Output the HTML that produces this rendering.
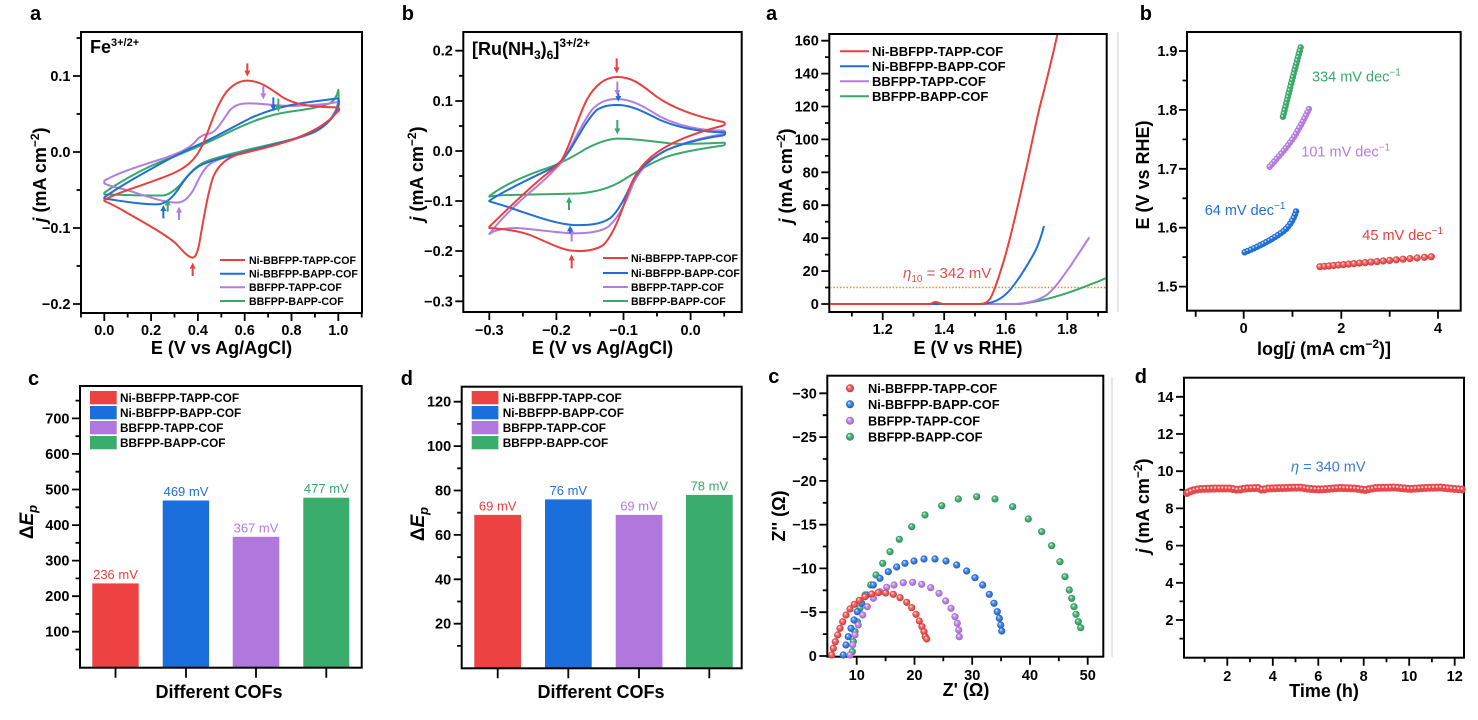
<!DOCTYPE html>
<html><head><meta charset="utf-8"><style>
html,body{margin:0;padding:0;background:#fff}
text{font-family:"Liberation Sans",Arial,sans-serif}
.t{font-size:14.5px;font-weight:bold}
.ti{font-size:18px;font-weight:bold}
.lt{font-size:20px;font-weight:bold}
.ax{fill:none;stroke:#000;stroke-width:2}
.tk{fill:none;stroke:#000;stroke-width:1.8}
.cv{fill:none;stroke-width:6;stroke-linejoin:round}
</style></head><body>
<svg width="1478" height="715" viewBox="0 0 1478 715" xmlns="http://www.w3.org/2000/svg">
<defs>
<radialGradient id="gR" cx=".5" cy=".5" r=".5" fx=".35" fy=".3"><stop offset="0" stop-color="#fff"/><stop offset=".35" stop-color="#f07a7a"/><stop offset="1" stop-color="#d42e2e"/></radialGradient>
<radialGradient id="gB" cx=".5" cy=".5" r=".5" fx=".35" fy=".3"><stop offset="0" stop-color="#fff"/><stop offset=".35" stop-color="#5a97e8"/><stop offset="1" stop-color="#1558c4"/></radialGradient>
<radialGradient id="gP" cx=".5" cy=".5" r=".5" fx=".35" fy=".3"><stop offset="0" stop-color="#fff"/><stop offset=".35" stop-color="#c99ae8"/><stop offset="1" stop-color="#9c5fd0"/></radialGradient>
<radialGradient id="gG" cx=".5" cy=".5" r=".5" fx=".35" fy=".3"><stop offset="0" stop-color="#fff"/><stop offset=".35" stop-color="#62c08a"/><stop offset="1" stop-color="#248a52"/></radialGradient>
<clipPath id="cA"><rect x="82" y="33" width="279" height="279"/></clipPath>
<clipPath id="cB"><rect x="464" y="33" width="277" height="278"/></clipPath>
<clipPath id="cL"><rect x="830" y="35" width="276" height="276"/></clipPath>
</defs>
<rect width="1478" height="715" fill="#fff"/>

<!-- faint separators -->
<path d="M1118,32V312M1112,377V657" stroke="#cfcfcf" stroke-width="1"/>

<!-- ================= Panel a (CV Fe) ================= -->
<text class="lt" x="30" y="20">a</text>
<rect x="81" y="32" width="281" height="281" class="ax"/>
<path class="tk" d="M73,76H81M73,152H81M73,228H81M73,304H81M76.5,38H81M76.5,114H81M76.5,190H81M76.5,266H81M104.3,313V321M151.1,313V321M197.9,313V321M244.7,313V321M291.5,313V321M338.3,313V321M81,313V317.5M127.7,313V317.5M174.5,313V317.5M221.3,313V317.5M268.1,313V317.5M314.9,313V317.5M361.7,313V317.5"/>
<g class="t" text-anchor="end"><text x="70.5" y="81">0.1</text><text x="70.5" y="157">0.0</text><text x="70.5" y="233">−0.1</text><text x="70.5" y="309">−0.2</text></g>
<g class="t" text-anchor="middle"><text x="104.3" y="335">0.0</text><text x="151.1" y="335">0.2</text><text x="197.9" y="335">0.4</text><text x="244.7" y="335">0.6</text><text x="291.5" y="335">0.8</text><text x="338.3" y="335">1.0</text></g>
<text class="ti" x="221.5" y="354" text-anchor="middle">E (V vs Ag/AgCl)</text>
<text class="ti" transform="translate(46,175) rotate(-90)" text-anchor="middle"><tspan font-style="italic">j</tspan> (mA cm<tspan font-size="12" dy="-7">−2</tspan><tspan dy="7">)</tspan></text>
<text x="90" y="53" font-size="18" font-weight="bold">Fe<tspan font-size="11" dy="-7">3+/2+</tspan></text>
<g clip-path="url(#cA)"><g transform="scale(0.333333)">
<path class="cv" stroke="#3aa86a" d="M313,578 C360,545 430,505 500,478 C560,455 620,430 680,400 C740,370 800,345 870,335 C920,328 960,322 990,310 C1005,300 1012,285 1015,270 C1017,290 1015,318 1005,335 C980,385 940,400 900,412 C840,428 780,440 720,455 C670,467 630,478 610,488 C580,505 560,530 540,555 C520,575 505,585 490,586 C440,588 380,585 313,583 Z"/>
<path class="cv" stroke="#b57ce0" d="M313,542 C360,515 430,495 500,472 C550,455 575,440 590,420 C600,408 615,402 630,400 C650,395 665,365 690,330 C705,315 720,310 745,310 C790,310 830,318 880,318 C940,316 990,312 1015,305 C1019,310 1016,322 1008,332 C990,370 960,390 930,402 C870,425 800,442 740,455 C690,466 650,478 630,492 C610,505 595,540 580,570 C565,595 550,608 530,608 C490,608 430,585 380,570 C350,562 325,558 313,550 Z"/>
<path class="cv" stroke="#1f6fd8" d="M313,592 C350,565 420,525 480,492 C530,465 570,445 600,432 C650,410 700,380 750,355 C800,332 850,318 900,310 C950,303 990,298 1015,295 C1019,302 1016,322 1008,335 C995,360 975,380 940,397 C880,420 800,440 740,455 C680,470 640,480 610,492 C580,505 560,530 540,560 C520,590 500,612 472,613 C430,614 380,605 313,596 Z"/>
<path class="cv" stroke="#e8403f" d="M313,600 C360,572 470,545 530,515 C570,495 590,470 605,440 C625,400 645,320 680,275 C700,252 720,242 742,242 C780,242 810,265 845,290 C880,312 930,322 1015,322 C1019,326 1018,333 1012,336 C980,372 940,395 880,418 C820,440 760,452 720,462 C680,472 655,495 640,530 C625,570 610,660 598,730 C592,760 586,773 578,773 C562,772 545,748 525,728 C490,700 440,672 384,640 C350,620 325,608 313,603 Z"/>
<g stroke-width="6">
<path stroke="#e8403f" d="M742,190V215M578,828V803"/><polygon fill="#e8403f" points="733,212 751,212 742,230"/><polygon fill="#e8403f" points="569,806 587,806 578,788"/>
<path stroke="#b57ce0" d="M790,258V283M537,660V635"/><polygon fill="#b57ce0" points="781,280 799,280 790,298"/><polygon fill="#b57ce0" points="528,638 546,638 537,620"/>
<path stroke="#1f6fd8" d="M820,292V318M490,655V630"/><polygon fill="#1f6fd8" points="811,315 829,315 820,333"/><polygon fill="#1f6fd8" points="481,633 499,633 490,615"/>
<path stroke="#3aa86a" d="M835,296V321M503,635V613"/><polygon fill="#3aa86a" points="826,318 844,318 835,336"/><polygon fill="#3aa86a" points="494,616 512,616 503,598"/>
</g>
</g></g>
<g stroke-width="2"><path d="M220,260H245" stroke="#e8403f"/><path d="M220,273.7H245" stroke="#1f6fd8"/><path d="M220,287.3H245" stroke="#b57ce0"/><path d="M220,301H245" stroke="#3aa86a"/></g>
<g font-size="10.6" font-weight="bold"><text x="249" y="264">Ni-BBFPP-TAPP-COF</text><text x="249" y="277.5">Ni-BBFPP-BAPP-COF</text><text x="249" y="291">BBFPP-TAPP-COF</text><text x="249" y="304.8">BBFPP-BAPP-COF</text></g>

<!-- ================= Panel b (CV Ru) ================= -->
<text class="lt" x="401.7" y="20">b</text>
<rect x="463.3" y="32" width="278.4" height="280" class="ax"/>
<path class="tk" d="M455.3,50.7H463.3M455.3,101H463.3M455.3,151H463.3M455.3,201H463.3M455.3,251H463.3M455.3,301.3H463.3M459,75.8H463.3M459,126H463.3M459,176H463.3M459,226H463.3M459,276H463.3M489.3,312V320M556.4,312V320M623.5,312V320M690.6,312V320M522.9,312V316.5M590,312V316.5M657,312V316.5M724.2,312V316.5"/>
<g class="t" text-anchor="end"><text x="452.8" y="55.7">0.2</text><text x="452.8" y="106">0.1</text><text x="452.8" y="156">0.0</text><text x="452.8" y="206">−0.1</text><text x="452.8" y="256">−0.2</text><text x="452.8" y="306.3">−0.3</text></g>
<g class="t" text-anchor="middle"><text x="489.3" y="335">−0.3</text><text x="556.4" y="335">−0.2</text><text x="623.5" y="335">−0.1</text><text x="690.6" y="335">0.0</text></g>
<text class="ti" x="602.5" y="354" text-anchor="middle">E (V vs Ag/AgCl)</text>
<text class="ti" transform="translate(423,174) rotate(-90)" text-anchor="middle"><tspan font-style="italic">j</tspan> (mA cm<tspan font-size="12" dy="-7">−2</tspan><tspan dy="7">)</tspan></text>
<text x="472" y="55" font-size="18" font-weight="bold">[Ru(NH<tspan font-size="12" dy="4">3</tspan><tspan dy="-4">)</tspan><tspan font-size="12" dy="4">6</tspan><tspan dy="-4">]</tspan><tspan font-size="12" dy="-8">3+/2+</tspan></text>
<g clip-path="url(#cB)"><g transform="translate(370,0) scale(0.333333)">
<path class="cv" stroke="#3aa86a" d="M358,588 C400,555 470,525 530,505 C570,492 610,470 650,445 C690,425 720,416 745,416 C800,416 850,425 900,430 C960,434 1010,430 1063,428 C1067,431 1065,436 1058,437 C1000,445 940,455 890,470 C840,490 800,515 760,540 C720,565 680,575 630,580 C560,583 480,583 420,585 C390,586 365,588 358,590 Z"/>
<path class="cv" stroke="#b57ce0" d="M358,702 C390,660 440,610 500,560 C540,525 560,505 580,480 C605,440 630,380 665,330 C690,303 715,297 742,297 C790,298 830,325 870,350 C930,380 1000,392 1063,392 C1068,396 1065,402 1055,403 C1000,412 940,428 890,450 C840,475 810,510 790,550 C770,600 750,650 715,680 C690,697 650,700 610,700 C560,698 500,688 440,684 C400,684 370,692 358,702 Z"/>
<path class="cv" stroke="#1f6fd8" d="M358,602 C400,575 470,540 530,512 C560,498 580,480 600,450 C625,410 650,360 680,330 C705,315 725,315 745,315 C790,316 830,340 870,360 C930,385 1000,397 1063,397 C1068,400 1065,406 1055,407 C1000,415 940,430 890,450 C840,475 810,505 790,540 C770,580 750,630 720,655 C690,675 650,676 610,675 C560,672 500,650 440,630 C400,615 370,608 358,604 Z"/>
<path class="cv" stroke="#e8403f" d="M358,680 C400,640 460,580 520,530 C545,510 560,500 575,480 C600,440 620,360 650,300 C675,255 705,232 740,231 C790,230 820,260 860,290 C910,325 980,350 1060,366 C1068,368 1065,376 1055,378 C1000,392 930,415 880,445 C830,475 800,510 780,560 C760,620 735,700 700,735 C675,752 640,755 605,752 C570,748 530,725 480,705 C440,690 390,686 358,684 Z"/>
<g stroke-width="6">
<path stroke="#e8403f" d="M740,175V205M605,805V778"/><polygon fill="#e8403f" points="731,202 749,202 740,220"/><polygon fill="#e8403f" points="596,781 614,781 605,763"/>
<path stroke="#b57ce0" d="M742,245V273M605,725V698"/><polygon fill="#b57ce0" points="733,270 751,270 742,288"/><polygon fill="#b57ce0" points="596,701 614,701 605,683"/>
<path stroke="#1f6fd8" d="M745,280V290M600,700V690"/><polygon fill="#1f6fd8" points="736,288 754,288 745,305"/><polygon fill="#1f6fd8" points="591,694 609,694 600,676"/>
<path stroke="#3aa86a" d="M742,360V388M597,630V605"/><polygon fill="#3aa86a" points="733,385 751,385 742,403"/><polygon fill="#3aa86a" points="588,608 606,608 597,590"/>
</g>
</g></g>
<g stroke-width="2"><path d="M603,258H628" stroke="#e8403f"/><path d="M603,273H628" stroke="#1f6fd8"/><path d="M603,287H628" stroke="#b57ce0"/><path d="M603,301H628" stroke="#3aa86a"/></g>
<g font-size="10.6" font-weight="bold"><text x="631" y="262">Ni-BBFPP-TAPP-COF</text><text x="631" y="277">Ni-BBFPP-BAPP-COF</text><text x="631" y="291">BBFPP-TAPP-COF</text><text x="631" y="305">BBFPP-BAPP-COF</text></g>

<!-- ================= Panel a (LSV) ================= -->
<text class="lt" x="766" y="20">a</text>
<rect x="829.3" y="34" width="277.4" height="278" class="ax"/>
<path class="tk" d="M821.3,304H829.3M821.3,271.1H829.3M821.3,238.2H829.3M821.3,205.2H829.3M821.3,172.3H829.3M821.3,139.4H829.3M821.3,106.5H829.3M821.3,73.6H829.3M821.3,40.7H829.3M825,287.5H829.3M825,254.6H829.3M825,221.7H829.3M825,188.8H829.3M825,155.9H829.3M825,123H829.3M825,90H829.3M825,57.1H829.3M882.7,312V320M944.2,312V320M1005.8,312V320M1067.3,312V320M851.9,312V316.5M913.5,312V316.5M975,312V316.5M1036.5,312V316.5M1098.1,312V316.5"/>
<g class="t" text-anchor="end"><text x="818.8" y="309">0</text><text x="818.8" y="276.1">20</text><text x="818.8" y="243.2">40</text><text x="818.8" y="210.2">60</text><text x="818.8" y="177.3">80</text><text x="818.8" y="144.4">100</text><text x="818.8" y="111.5">120</text><text x="818.8" y="78.6">140</text><text x="818.8" y="45.7">160</text></g>
<g class="t" text-anchor="middle"><text x="882.7" y="334">1.2</text><text x="944.2" y="334">1.4</text><text x="1005.8" y="334">1.6</text><text x="1067.3" y="334">1.8</text></g>
<text class="ti" x="968" y="354" text-anchor="middle">E (V vs RHE)</text>
<text class="ti" transform="translate(792,176) rotate(-90)" text-anchor="middle"><tspan font-style="italic">j</tspan> (mA cm<tspan font-size="12" dy="-7">−2</tspan><tspan dy="7">)</tspan></text>
<path d="M830,287.5H1106" stroke="#e8901a" stroke-width="1.4" stroke-dasharray="1.5 1.8" fill="none"/>
<text x="903" y="278" font-size="15" fill="#e0504f"><tspan font-style="italic">η</tspan><tspan font-size="10" dy="4">10</tspan><tspan dy="-4"> = 342 mV</tspan></text>
<g clip-path="url(#cL)"><g transform="translate(740,0) scale(0.333333)">
<path class="cv" stroke="#3aa86a" d="M270,912 L840,912 C880,908 920,898 960,886 C1000,874 1030,862 1060,850 C1080,843 1095,836 1110,828"/>
<path class="cv" stroke="#b57ce0" d="M270,912 L820,912 C860,911 895,902 920,885 C945,865 965,835 990,800 C1010,770 1030,740 1048,712"/>
<path class="cv" stroke="#1f6fd8" d="M270,912 L720,912 C760,911 785,898 810,870 C835,840 860,800 885,755 C897,730 905,705 912,678"/>
<path class="cv" stroke="#e8403f" d="M270,912 L570,912 C578,910 582,905 588,906 C595,907 600,911 610,912 L720,912 C740,911 748,902 756,885 C768,860 780,820 795,770 C815,700 840,590 860,500 C880,410 895,330 910,280 C925,220 940,160 955,90"/>
</g></g>
<g stroke-width="2"><path d="M840,51.3H869" stroke="#e8403f"/><path d="M840,66.3H869" stroke="#1f6fd8"/><path d="M840,81.3H869" stroke="#b57ce0"/><path d="M840,96.3H869" stroke="#3aa86a"/></g>
<g font-size="13" font-weight="bold"><text x="872" y="56">Ni-BBFPP-TAPP-COF</text><text x="872" y="71">Ni-BBFPP-BAPP-COF</text><text x="872" y="86">BBFPP-TAPP-COF</text><text x="872" y="101">BBFPP-BAPP-COF</text></g>

<!-- ================= Panel b (Tafel) ================= -->
<text class="lt" x="1139.7" y="20">b</text>
<rect x="1187" y="32" width="273.7" height="278.7" class="ax"/>
<path class="tk" d="M1179,51H1187M1179,109.9H1187M1179,168.8H1187M1179,227.7H1187M1179,286.6H1187M1182.5,80.5H1187M1182.5,139.4H1187M1182.5,198.3H1187M1182.5,257.2H1187M1243.7,310.7V318.7M1341.3,310.7V318.7M1438,310.7V318.7M1195.7,310.7V316.7M1292.5,310.7V316.7M1389.7,310.7V316.7"/>
<g class="t" text-anchor="end"><text x="1177.5" y="56">1.9</text><text x="1177.5" y="114.9">1.8</text><text x="1177.5" y="173.8">1.7</text><text x="1177.5" y="232.7">1.6</text><text x="1177.5" y="291.6">1.5</text></g>
<g class="t" text-anchor="middle"><text x="1243.7" y="333">0</text><text x="1341.3" y="333">2</text><text x="1438" y="333">4</text></g>
<text class="ti" x="1324" y="355" text-anchor="middle">log[<tspan font-style="italic">j</tspan> (mA cm<tspan font-size="12" dy="-7">−2</tspan><tspan dy="7">)]</tspan></text>
<text class="ti" transform="translate(1149,175) rotate(-90)" text-anchor="middle">E (V vs RHE)</text>
<g fill="none" stroke-linecap="round">
<path d="M1283,116.7 C1287,100 1292,80 1296,65 C1298,57 1300,50 1301.3,45" stroke="#3aa86a" stroke-width="6.5" stroke-dasharray="0 3.4"/>
<path d="M1283,116.7 C1287,100 1292,80 1296,65 C1298,57 1300,50 1301.3,45" stroke="#fff" stroke-opacity=".7" stroke-width="2" stroke-dasharray="0 3.4" transform="translate(-0.8,-0.8)"/>
<path d="M1269.7,166.7 C1280,155 1292,142 1298,130 C1304,120 1307,113 1309.7,107.3" stroke="#b57ce0" stroke-width="6.5" stroke-dasharray="0 3.5"/>
<path d="M1269.7,166.7 C1280,155 1292,142 1298,130 C1304,120 1307,113 1309.7,107.3" stroke="#fff" stroke-opacity=".7" stroke-width="2" stroke-dasharray="0 3.5" transform="translate(-0.8,-0.8)"/>
<path d="M1244.7,252.3 C1260,246 1275,238 1285,230 C1291,224 1294,218 1296.3,210.7" stroke="#1f6fd8" stroke-width="6.5" stroke-dasharray="0 3.4"/>
<path d="M1244.7,252.3 C1260,246 1275,238 1285,230 C1291,224 1294,218 1296.3,210.7" stroke="#fff" stroke-opacity=".7" stroke-width="2" stroke-dasharray="0 3.4" transform="translate(-0.8,-0.8)"/>
</g>
<g fill="url(#gR)">
<circle cx="1320" cy="266.7" r="3.6"/><circle cx="1324.5" cy="266.3" r="3.6"/><circle cx="1329" cy="265.9" r="3.6"/><circle cx="1333.7" cy="265.5" r="3.6"/><circle cx="1338.5" cy="265" r="3.6"/><circle cx="1343.5" cy="264.6" r="3.6"/><circle cx="1348.7" cy="264.1" r="3.6"/><circle cx="1354" cy="263.6" r="3.6"/><circle cx="1359.5" cy="263.1" r="3.6"/><circle cx="1365.2" cy="262.6" r="3.6"/><circle cx="1371" cy="262.1" r="3.6"/><circle cx="1377" cy="261.6" r="3.6"/><circle cx="1383.2" cy="261" r="3.6"/><circle cx="1389.6" cy="260.4" r="3.6"/><circle cx="1396.2" cy="259.8" r="3.6"/><circle cx="1403" cy="259.2" r="3.6"/><circle cx="1410" cy="258.6" r="3.6"/><circle cx="1417.2" cy="258" r="3.6"/><circle cx="1424.5" cy="257.3" r="3.6"/><circle cx="1431.3" cy="256.7" r="3.6"/>
</g>
<g font-size="14.5"><text x="1312" y="81.7" fill="#3aa86a">334 mV dec<tspan font-size="10" dy="-6">−1</tspan></text><text x="1301.3" y="156.7" fill="#b57ce0">101 mV dec<tspan font-size="10" dy="-6">−1</tspan></text><text x="1204.7" y="215" fill="#1f6fd8">64 mV dec<tspan font-size="10" dy="-6">−1</tspan></text><text x="1362.3" y="240" fill="#e8403f">45 mV dec<tspan font-size="10" dy="-6">−1</tspan></text></g>

<!-- ================= Panel c (bars Fe) ================= -->
<text class="lt" x="28" y="385">c</text>
<g><rect x="92.3" y="583.4" width="46.4" height="84.3" fill="#ee4242"/><rect x="162.7" y="500.5" width="46.4" height="167.2" fill="#1b6fdc"/><rect x="232.7" y="536.8" width="46.6" height="130.9" fill="#b077dd"/><rect x="303.3" y="497.7" width="46" height="170" fill="#3aac6c"/></g>
<rect x="80" y="386" width="281.7" height="281.7" class="ax"/>
<path class="tk" d="M72,631.7H80M72,596.2H80M72,560.6H80M72,525.1H80M72,489.5H80M72,453.9H80M72,418.4H80M75.5,649.5H80M75.5,614H80M75.5,578.4H80M75.5,542.8H80M75.5,507.3H80M75.5,471.7H80M75.5,436.2H80M75.5,400.6H80M115.5,667.7V677.7M186,667.7V677.7M256,667.7V677.7M326.3,667.7V677.7"/>
<g class="t" text-anchor="end"><text x="69.5" y="636.7">100</text><text x="69.5" y="601.2">200</text><text x="69.5" y="565.6">300</text><text x="69.5" y="530.1">400</text><text x="69.5" y="494.5">500</text><text x="69.5" y="458.9">600</text><text x="69.5" y="423.4">700</text></g>
<g font-size="13" text-anchor="middle"><text x="115.5" y="579" fill="#e8403f">236 mV</text><text x="186" y="496" fill="#1f6fd8">469 mV</text><text x="256" y="532.3" fill="#b57ce0">367 mV</text><text x="326.3" y="493.2" fill="#3aa86a">477 mV</text></g>
<g><rect x="90" y="391" width="26.7" height="13.3" fill="#ee4242"/><rect x="90" y="406" width="26.7" height="13.3" fill="#1b6fdc"/><rect x="90" y="421" width="26.7" height="13.3" fill="#b077dd"/><rect x="90" y="436" width="26.7" height="13.3" fill="#3aac6c"/></g>
<g font-size="11.8" font-weight="bold"><text x="120" y="402">Ni-BBFPP-TAPP-COF</text><text x="120" y="417">Ni-BBFPP-BAPP-COF</text><text x="120" y="432">BBFPP-TAPP-COF</text><text x="120" y="447">BBFPP-BAPP-COF</text></g>
<text class="ti" x="219" y="698" text-anchor="middle">Different COFs</text>
<text transform="translate(33,522) rotate(-90)" text-anchor="middle" font-size="19" font-weight="bold">Δ<tspan font-style="italic">E</tspan><tspan font-style="italic" font-size="13" dy="4">p</tspan></text>

<!-- ================= Panel d (bars Ru) ================= -->
<text class="lt" x="400.7" y="385">d</text>
<g><rect x="474.3" y="514.9" width="46.7" height="153.4" fill="#ee4242"/><rect x="545" y="499.4" width="46.7" height="168.9" fill="#1b6fdc"/><rect x="615.7" y="514.9" width="46.7" height="153.4" fill="#b077dd"/><rect x="686" y="494.9" width="46.7" height="173.4" fill="#3aac6c"/></g>
<rect x="461.7" y="386.7" width="280" height="281.6" class="ax"/>
<path class="tk" d="M453.7,623.7H461.7M453.7,579.3H461.7M453.7,534.9H461.7M453.7,490.5H461.7M453.7,446.1H461.7M453.7,401.7H461.7M457.2,645.9H461.7M457.2,601.5H461.7M457.2,557.1H461.7M457.2,512.7H461.7M457.2,468.3H461.7M457.2,423.9H461.7M497.7,668.3V678.3M568.3,668.3V678.3M639,668.3V678.3M709.3,668.3V678.3"/>
<g class="t" text-anchor="end"><text x="451.2" y="628.7">20</text><text x="451.2" y="584.3">40</text><text x="451.2" y="539.9">60</text><text x="451.2" y="495.5">80</text><text x="451.2" y="451.1">100</text><text x="451.2" y="406.7">120</text></g>
<g font-size="13" text-anchor="middle"><text x="497.7" y="510.4" fill="#e8403f">69 mV</text><text x="568.3" y="495" fill="#1f6fd8">76 mV</text><text x="639" y="510.4" fill="#b57ce0">69 mV</text><text x="709.3" y="490.4" fill="#3aa86a">78 mV</text></g>
<g><rect x="471.7" y="391" width="26.7" height="13.3" fill="#ee4242"/><rect x="471.7" y="406" width="26.7" height="13.3" fill="#1b6fdc"/><rect x="471.7" y="421" width="26.7" height="13.3" fill="#b077dd"/><rect x="471.7" y="436" width="26.7" height="13.3" fill="#3aac6c"/></g>
<g font-size="11.8" font-weight="bold"><text x="502.7" y="402">Ni-BBFPP-TAPP-COF</text><text x="502.7" y="417">Ni-BBFPP-BAPP-COF</text><text x="502.7" y="432">BBFPP-TAPP-COF</text><text x="502.7" y="447">BBFPP-BAPP-COF</text></g>
<text class="ti" x="601" y="698" text-anchor="middle">Different COFs</text>
<text transform="translate(424,524) rotate(-90)" text-anchor="middle" font-size="19" font-weight="bold">Δ<tspan font-style="italic">E</tspan><tspan font-style="italic" font-size="13" dy="4">p</tspan></text>

<!-- ================= Panel c (Nyquist) ================= -->
<text class="lt" x="768.3" y="383">c</text>
<rect x="827.3" y="375.7" width="276" height="281" class="ax"/>
<path class="tk" d="M819.3,656H827.3M819.3,612.2H827.3M819.3,568.4H827.3M819.3,524.7H827.3M819.3,480.9H827.3M819.3,437.1H827.3M819.3,393.3H827.3M822.8,634.1H827.3M822.8,590.3H827.3M822.8,546.5H827.3M822.8,502.8H827.3M822.8,459H827.3M822.8,415.2H827.3M856.7,656.7V664.7M914.5,656.7V664.7M972.2,656.7V664.7M1030,656.7V664.7M1087.7,656.7V664.7M885.6,656.7V661.2M943.3,656.7V661.2M1001.1,656.7V661.2M1058.8,656.7V661.2"/>
<g class="t" text-anchor="end"><text x="816.8" y="661">0</text><text x="816.8" y="617.2">−5</text><text x="816.8" y="573.4">−10</text><text x="816.8" y="529.7">−15</text><text x="816.8" y="485.9">−20</text><text x="816.8" y="442.1">−25</text><text x="816.8" y="398.3">−30</text></g>
<g class="t" text-anchor="middle"><text x="856.7" y="680">10</text><text x="914.5" y="680">20</text><text x="972.2" y="680">30</text><text x="1030" y="680">40</text><text x="1087.7" y="680">50</text></g>
<text class="ti" x="966" y="696" text-anchor="middle">Z' (Ω)</text>
<text class="ti" transform="translate(785,516) rotate(-90)" text-anchor="middle">Z'' (Ω)</text>
<g fill="url(#gG)">
<circle cx="852.3" cy="651.7" r="3.6"/><circle cx="853.3" cy="641.7" r="3.6"/><circle cx="855" cy="631.7" r="3.6"/><circle cx="857.3" cy="621.7" r="3.6"/><circle cx="860" cy="608.3" r="3.6"/><circle cx="865" cy="595" r="3.6"/><circle cx="870.7" cy="585" r="3.6"/><circle cx="876" cy="575" r="3.6"/><circle cx="882.7" cy="563.3" r="3.6"/><circle cx="890" cy="551.7" r="3.6"/><circle cx="899.3" cy="539.3" r="3.6"/><circle cx="911.7" cy="526.7" r="3.6"/><circle cx="925" cy="515" r="3.6"/><circle cx="941.7" cy="505.7" r="3.6"/><circle cx="958.3" cy="499" r="3.6"/><circle cx="976.7" cy="496.7" r="3.6"/><circle cx="995" cy="499" r="3.6"/><circle cx="1012.7" cy="506.7" r="3.6"/><circle cx="1028.3" cy="519" r="3.6"/><circle cx="1041.7" cy="531.7" r="3.6"/><circle cx="1051.7" cy="545.7" r="3.6"/><circle cx="1060" cy="561.7" r="3.6"/><circle cx="1065" cy="576.7" r="3.6"/><circle cx="1069.3" cy="590" r="3.6"/><circle cx="1071.7" cy="598.3" r="3.6"/><circle cx="1074" cy="606.7" r="3.6"/><circle cx="1076" cy="614.3" r="3.6"/><circle cx="1078.3" cy="621.7" r="3.6"/><circle cx="1080.7" cy="627.7" r="3.6"/>
</g>
<g fill="url(#gB)">
<circle cx="843.3" cy="655" r="3.6"/><circle cx="846" cy="645" r="3.6"/><circle cx="848.3" cy="636.7" r="3.6"/><circle cx="851" cy="628.3" r="3.6"/><circle cx="854" cy="620" r="3.6"/><circle cx="857.3" cy="611.7" r="3.6"/><circle cx="861.7" cy="603.3" r="3.6"/><circle cx="866.7" cy="595" r="3.6"/><circle cx="873.3" cy="585" r="3.6"/><circle cx="880" cy="578.3" r="3.6"/><circle cx="888.3" cy="571.7" r="3.6"/><circle cx="896.7" cy="567" r="3.6"/><circle cx="905" cy="563.3" r="3.6"/><circle cx="914" cy="561" r="3.6"/><circle cx="924" cy="559" r="3.6"/><circle cx="935" cy="559" r="3.6"/><circle cx="946" cy="561" r="3.6"/><circle cx="956.7" cy="565" r="3.6"/><circle cx="966.7" cy="571" r="3.6"/><circle cx="975" cy="577.7" r="3.6"/><circle cx="982.7" cy="585" r="3.6"/><circle cx="989.3" cy="594.3" r="3.6"/><circle cx="994" cy="603.3" r="3.6"/><circle cx="997.3" cy="611.7" r="3.6"/><circle cx="999.3" cy="618.3" r="3.6"/><circle cx="1000.7" cy="625" r="3.6"/><circle cx="1001.7" cy="631" r="3.6"/>
</g>
<g fill="url(#gP)">
<circle cx="850" cy="655" r="3.6"/><circle cx="852.7" cy="645" r="3.6"/><circle cx="855" cy="635" r="3.6"/><circle cx="858.3" cy="625" r="3.6"/><circle cx="862.7" cy="615" r="3.6"/><circle cx="867.3" cy="606.7" r="3.6"/><circle cx="873.3" cy="598.3" r="3.6"/><circle cx="880" cy="591.7" r="3.6"/><circle cx="886.7" cy="587.3" r="3.6"/><circle cx="894" cy="585" r="3.6"/><circle cx="903.3" cy="582.7" r="3.6"/><circle cx="912.7" cy="582.3" r="3.6"/><circle cx="921.7" cy="584.3" r="3.6"/><circle cx="930.7" cy="587.7" r="3.6"/><circle cx="939" cy="593.3" r="3.6"/><circle cx="945.7" cy="601" r="3.6"/><circle cx="951" cy="608.3" r="3.6"/><circle cx="955" cy="616.7" r="3.6"/><circle cx="957.3" cy="623.3" r="3.6"/><circle cx="958.7" cy="630" r="3.6"/><circle cx="959.3" cy="636.7" r="3.6"/>
</g>
<g fill="url(#gR)">
<circle cx="831.7" cy="655" r="3.6"/><circle cx="833.3" cy="648.3" r="3.6"/><circle cx="835.3" cy="641.7" r="3.6"/><circle cx="837.7" cy="635" r="3.6"/><circle cx="840" cy="628.3" r="3.6"/><circle cx="842.7" cy="621.7" r="3.6"/><circle cx="846" cy="615" r="3.6"/><circle cx="850" cy="609" r="3.6"/><circle cx="854.3" cy="604.3" r="3.6"/><circle cx="859.3" cy="600.3" r="3.6"/><circle cx="865" cy="596.7" r="3.6"/><circle cx="871.7" cy="594" r="3.6"/><circle cx="878.3" cy="592.7" r="3.6"/><circle cx="885.7" cy="593" r="3.6"/><circle cx="893.3" cy="594.3" r="3.6"/><circle cx="900" cy="597.7" r="3.6"/><circle cx="906.7" cy="602.3" r="3.6"/><circle cx="911.7" cy="607.7" r="3.6"/><circle cx="916" cy="614.3" r="3.6"/><circle cx="919.3" cy="621" r="3.6"/><circle cx="922" cy="626.7" r="3.6"/><circle cx="924" cy="631.7" r="3.6"/><circle cx="925.3" cy="636.7" r="3.6"/><circle cx="926.7" cy="639" r="3.6"/>
</g>
<circle cx="850" cy="388.3" r="4" fill="url(#gR)"/><circle cx="850" cy="404.3" r="4" fill="url(#gB)"/><circle cx="850" cy="420.7" r="4" fill="url(#gP)"/><circle cx="850" cy="436.7" r="4" fill="url(#gG)"/>
<g font-size="12.8" font-weight="bold"><text x="868" y="393">Ni-BBFPP-TAPP-COF</text><text x="868" y="409">Ni-BBFPP-BAPP-COF</text><text x="868" y="425.4">BBFPP-TAPP-COF</text><text x="868" y="441.4">BBFPP-BAPP-COF</text></g>

<!-- ================= Panel d (stability) ================= -->
<text class="lt" x="1134.7" y="383">d</text>
<rect x="1184" y="377.7" width="280" height="280" class="ax"/>
<path class="tk" d="M1176,620H1184M1176,582.8H1184M1176,545.6H1184M1176,508.4H1184M1176,471.2H1184M1176,434H1184M1176,396.8H1184M1179.5,638.6H1184M1179.5,601.4H1184M1179.5,564.2H1184M1179.5,527H1184M1179.5,489.8H1184M1179.5,452.6H1184M1179.5,415.4H1184M1227.3,657.7V665.7M1272.8,657.7V665.7M1318.3,657.7V665.7M1363.7,657.7V665.7M1409.2,657.7V665.7M1454.7,657.7V665.7M1204.6,657.7V662.2M1250,657.7V662.2M1295.5,657.7V662.2M1341,657.7V662.2M1386.5,657.7V662.2M1431.9,657.7V662.2"/>
<g class="t" text-anchor="end"><text x="1173.5" y="625">2</text><text x="1173.5" y="587.8">4</text><text x="1173.5" y="550.6">6</text><text x="1173.5" y="513.4">8</text><text x="1173.5" y="476.2">10</text><text x="1173.5" y="439">12</text><text x="1173.5" y="401.8">14</text></g>
<g class="t" text-anchor="middle"><text x="1227.3" y="681">2</text><text x="1272.8" y="681">4</text><text x="1318.3" y="681">6</text><text x="1363.7" y="681">8</text><text x="1409.2" y="681">10</text><text x="1454.7" y="681">12</text></g>
<text class="ti" x="1324" y="697" text-anchor="middle">Time (h)</text>
<text class="ti" transform="translate(1149,506) rotate(-90)" text-anchor="middle"><tspan font-style="italic">j</tspan> (mA cm<tspan font-size="12" dy="-7">−2</tspan><tspan dy="7">)</tspan></text>
<text x="1291" y="471.7" font-size="14.5" fill="#3a7bd5"><tspan font-style="italic">η</tspan> = 340 mV</text>
<g fill="none" stroke-linecap="round">
<path d="M1187,493 L1192,490.5 L1200,489 L1215,488.5 L1230,488.5 L1238,490 L1245,488.5 L1258,488 L1262,490 L1268,488.5 L1285,488 L1300,487.5 L1310,489 L1320,489.5 L1340,488 L1355,488.5 L1365,490 L1375,488 L1395,487.5 L1410,489 L1425,488 L1440,487.5 L1455,489 L1462,489.5" stroke="#e8484a" stroke-width="8" stroke-dasharray="0 3.6"/>
<path d="M1187,493 L1192,490.5 L1200,489 L1215,488.5 L1230,488.5 L1238,490 L1245,488.5 L1258,488 L1262,490 L1268,488.5 L1285,488 L1300,487.5 L1310,489 L1320,489.5 L1340,488 L1355,488.5 L1365,490 L1375,488 L1395,487.5 L1410,489 L1425,488 L1440,487.5 L1455,489 L1462,489.5" stroke="#ffd6d6" stroke-width="2.2" stroke-dasharray="0 3.6" transform="translate(0,-1)"/>
</g>
</svg>
</body></html>
